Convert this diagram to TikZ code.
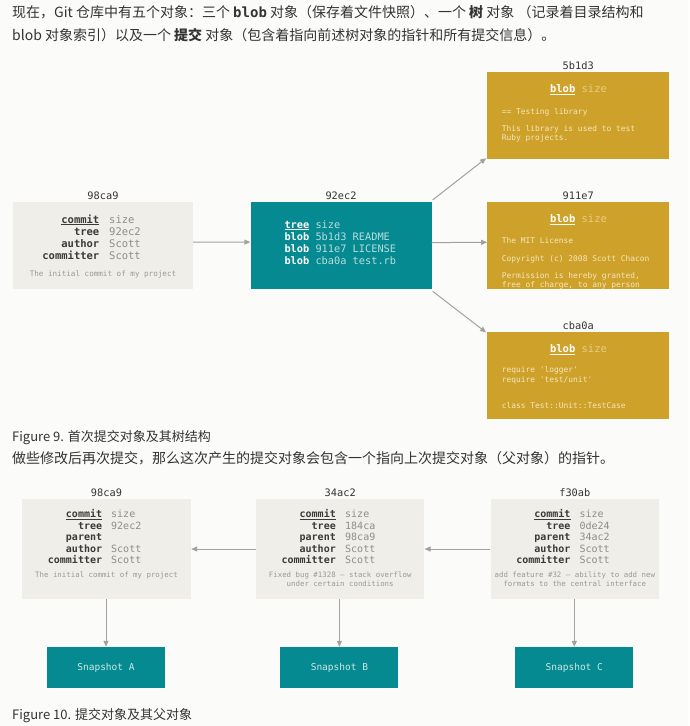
\documentclass[tikz,border=0pt]{standalone}
\usepackage{fontspec}
\setmainfont{Noto Sans CJK SC}
\setmonofont{DejaVu Sans Mono}
\usetikzlibrary{arrows.meta}
\definecolor{bg}{HTML}{FBFBF9}
\definecolor{boxg}{HTML}{EFEEE9}
\definecolor{tealc}{HTML}{058A91}
\definecolor{goldc}{HTML}{CEA12A}
\definecolor{keyc}{HTML}{3A3A38}
\definecolor{valc}{HTML}{8E8D88}
\definecolor{msgc}{HTML}{9A9993}
\definecolor{arrc}{HTML}{A3A19C}
\definecolor{txt}{HTML}{333333}
\definecolor{tpale}{HTML}{B8DDDE}
\definecolor{gpale}{HTML}{F5E6BC}
\definecolor{gsize}{HTML}{E8CD82}
\definecolor{spale}{HTML}{CDE7E7}
\tikzset{
  px/.style={x=1pt,y=-1pt},
  graybox/.style={fill=boxg,draw=none,inner sep=0},
  tealbox/.style={fill=tealc,draw=none,inner sep=0},
  goldbox/.style={fill=goldc,draw=none,inner sep=0},
  hashlbl/.style={font=\ttfamily\fontsize{10.3}{12}\selectfont,text=txt,anchor=south,inner sep=0,yshift=2pt},
  keyA/.style={font=\ttfamily\bfseries\fontsize{10.5}{12}\selectfont,text=keyc,anchor=base east,inner sep=0},
  valA/.style={font=\ttfamily\fontsize{10.5}{12}\selectfont,text=valc,anchor=base west,inner sep=0},
  keyB/.style={font=\ttfamily\bfseries\fontsize{10}{12}\selectfont,text=keyc,anchor=base east,inner sep=0},
  valB/.style={font=\ttfamily\fontsize{10}{12}\selectfont,text=valc,anchor=base west,inner sep=0},
  msg/.style={font=\ttfamily\fontsize{7.6}{8.5}\selectfont,text=msgc,anchor=base,inner sep=0},
  msgB/.style={font=\ttfamily\fontsize{7.4}{8.4}\selectfont,text=msgc,anchor=base,inner sep=0},
  trow/.style={font=\ttfamily\fontsize{10.3}{12}\selectfont,text=white,anchor=base west,inner sep=0},
  bhead/.style={font=\ttfamily\fontsize{10.5}{12}\selectfont,text=white,anchor=base,inner sep=0},
  bbody/.style={font=\ttfamily\fontsize{7.9}{8.5}\selectfont,text=gpale,anchor=base west,inner sep=0},
  snap/.style={fill=tealc,draw=none,inner sep=0,minimum width=118pt,minimum height=41pt,font=\ttfamily\fontsize{9.5}{11}\selectfont,text=spale},
  arr/.style={draw=arrc,line width=1pt,-{Triangle[length=6pt,width=5pt]}},
  para/.style={font=\fontsize{14}{16}\selectfont,text=txt,anchor=base west,inner sep=0},
  capt/.style={font=\fontsize{13}{15}\selectfont,text=txt,anchor=base west,inner sep=0}
}
\begin{document}
\begin{tikzpicture}[px]
\fill[bg] (0,0) rectangle (689,726);
\useasboundingbox (0,0) rectangle (689,726);

% paragraph
\node[para] (p1) at (12,17) {现在，Git 仓库中有五个对象：三个 \texttt{\textbf{blob}} 对象（保存着文件快照）、一个 \textbf{树} 对象 （记录着目录结构和};
\node[para] (p2) at (12,40) {blob 对象索引）以及一个 \textbf{提交} 对象（包含着指向前述树对象的指针和所有提交信息）。};

% ---------- Figure 9 ----------
\node[graybox,minimum width=180pt,minimum height=87pt] (c1) at (103,245.5) {};
\node[hashlbl] (c1l) at (c1.north) {98ca9};
\node[keyA] (c1k1) at (99.5,223) {\underline{commit}};
\node[valA] (c1v1) at (109,223) {size};
\node[keyA] (c1k2) at (99.5,235.3) {tree};
\node[valA] (c1v2) at (109,235.3) {92ec2};
\node[keyA] (c1k3) at (99.5,247.6) {author};
\node[valA] (c1v3) at (109,247.6) {Scott};
\node[keyA] (c1k4) at (99.5,259.9) {committer};
\node[valA] (c1v4) at (109,259.9) {Scott};
\node[msg] (c1m) at (103,276.5) {The initial commit of my project};

\node[tealbox,minimum width=181pt,minimum height=87pt] (t1) at (341,245.6) {};
\node[hashlbl] (t1l) at (t1.north) {92ec2};
\node[trow] (t1r1) at (284.3,228) {\textbf{\underline{tree}} \textcolor{tpale}{size}};
\node[trow] (t1r2) at (284.3,240.3) {\textbf{blob} \textcolor{tpale}{5b1d3 README}};
\node[trow] (t1r3) at (284.3,252.6) {\textbf{blob} \textcolor{tpale}{911e7 LICENSE}};
\node[trow] (t1r4) at (284.3,264.9) {\textbf{blob} \textcolor{tpale}{cba0a test.rb}};

\node[goldbox,minimum width=181.7pt,minimum height=87.3pt] (b1) at (578.2,115.3) {};
\node[hashlbl] (b1l) at (b1.north) {5b1d3};
\node[bhead] (b1h) at (578.5,92.6) {\textbf{\underline{blob}} \textcolor{gsize}{size}};
\node[bbody] (b1t1) at (501.7,114.5) {== Testing library};
\node[bbody] (b1t2) at (501.7,131.8) {This library is used to test};
\node[bbody] (b1t3) at (501.7,140.2) {Ruby projects.};

\node[goldbox,minimum width=181.7pt,minimum height=87.3pt] (b2) at (578.2,245.3) {};
\node[hashlbl] (b2l) at (b2.north) {911e7};
\node[bhead] (b2h) at (578.5,222.6) {\textbf{\underline{blob}} \textcolor{gsize}{size}};
\begin{scope}
\clip (b2.south west) rectangle (b2.north east);
\node[bbody] (b2t1) at (501.7,243.8) {The MIT License};
\node[bbody] (b2t2) at (501.7,261.5) {Copyright (c) 2008 Scott Chacon};
\node[bbody] (b2t3) at (501.7,278.8) {Permission is hereby granted,};
\node[bbody] (b2t4) at (501.7,287.3) {free of charge, to any person};
\end{scope}

\node[goldbox,minimum width=181.7pt,minimum height=87.3pt] (b3) at (578.2,375.3) {};
\node[hashlbl] (b3l) at (b3.north) {cba0a};
\node[bhead] (b3h) at (578.5,352.6) {\textbf{\underline{blob}} \textcolor{gsize}{size}};
\node[bbody] (b3t1) at (501.7,372.8) {require \textquotesingle logger\textquotesingle};
\node[bbody] (b3t2) at (501.7,382.1) {require \textquotesingle test/unit\textquotesingle};
\node[bbody] (b3t3) at (501.7,408.5) {class Test::Unit::TestCase};

\draw[arr] ([yshift=3.5pt]c1.east) -- ([yshift=3.5pt]t1.west);
\draw[arr] ([yshift=3pt]t1.east) -- ([yshift=3pt]b2.west);
\draw[arr] ([xshift=1pt,yshift=2pt]t1.north east) -- ([xshift=-1pt,yshift=1pt]b1.south west);
\draw[arr] ([xshift=1pt,yshift=-2pt]t1.south east) -- ([xshift=-1pt,yshift=-1pt]b3.north west);

\node[capt] (cap9) at (12,441) {Figure 9. 首次提交对象及其树结构};
\node[para] (p3) at (12,463) {做些修改后再次提交，那么这次产生的提交对象会包含一个指向上次提交对象（父对象）的指针。};

% ---------- Figure 10 ----------
\node[graybox,minimum width=169pt,minimum height=100pt] (d1) at (106.5,549) {};
\node[hashlbl] (d1l) at (d1.north) {98ca9};
\node[keyB] at (102.3,517.6) {\underline{commit}};
\node[valB] at (111,517.6) {size};
\node[keyB] at (102.3,529) {tree};
\node[valB] at (111,529) {92ec2};
\node[keyB] at (102.3,540.6) {parent};
\node[keyB] at (102.3,552.3) {author};
\node[valB] at (111,552.3) {Scott};
\node[keyB] at (102.3,563.6) {committer};
\node[valB] at (111,563.6) {Scott};
\node[msgB] at (106.5,577.7) {The initial commit of my project};

\node[graybox,minimum width=168.3pt,minimum height=100pt] (d2) at (340.2,549) {};
\node[hashlbl] (d2l) at (d2.north) {34ac2};
\node[keyB] at (336,517.6) {\underline{commit}};
\node[valB] at (345,517.6) {size};
\node[keyB] at (336,529) {tree};
\node[valB] at (345,529) {184ca};
\node[keyB] at (336,540.6) {parent};
\node[valB] at (345,540.6) {98ca9};
\node[keyB] at (336,552.3) {author};
\node[valB] at (345,552.3) {Scott};
\node[keyB] at (336,563.6) {committer};
\node[valB] at (345,563.6) {Scott};
\node[msgB] at (340.2,577.7) {Fixed bug \#1328 – stack overflow};
\node[msgB] at (340.2,586.1) {under certain conditions};

\node[graybox,minimum width=168.3pt,minimum height=100pt] (d3) at (574.8,549) {};
\node[hashlbl] (d3l) at (d3.north) {f30ab};
\node[keyB] at (570.7,517.6) {\underline{commit}};
\node[valB] at (579.3,517.6) {size};
\node[keyB] at (570.7,529) {tree};
\node[valB] at (579.3,529) {0de24};
\node[keyB] at (570.7,540.6) {parent};
\node[valB] at (579.3,540.6) {34ac2};
\node[keyB] at (570.7,552.3) {author};
\node[valB] at (579.3,552.3) {Scott};
\node[keyB] at (570.7,563.6) {committer};
\node[valB] at (579.3,563.6) {Scott};
\node[msgB] at (574.8,577.7) {add feature \#32 – ability to add new};
\node[msgB] at (574.8,586.1) {formats to the central interface};

\node[snap] (s1) at (106,667.5) {Snapshot A};
\node[snap] (s2) at (339.4,667.5) {Snapshot B};
\node[snap] (s3) at (574.3,667.5) {Snapshot C};

\draw[arr] (d2.west) -- (d1.east);
\draw[arr] (d3.west) -- (d2.east);
\draw[arr] (d1.south -| s1) -- (s1.north);
\draw[arr] (d2.south -| s2) -- (s2.north);
\draw[arr] (d3.south -| s3) -- (s3.north);

\node[capt] (cap10) at (12,719) {Figure 10. 提交对象及其父对象};
\end{tikzpicture}
\end{document}
